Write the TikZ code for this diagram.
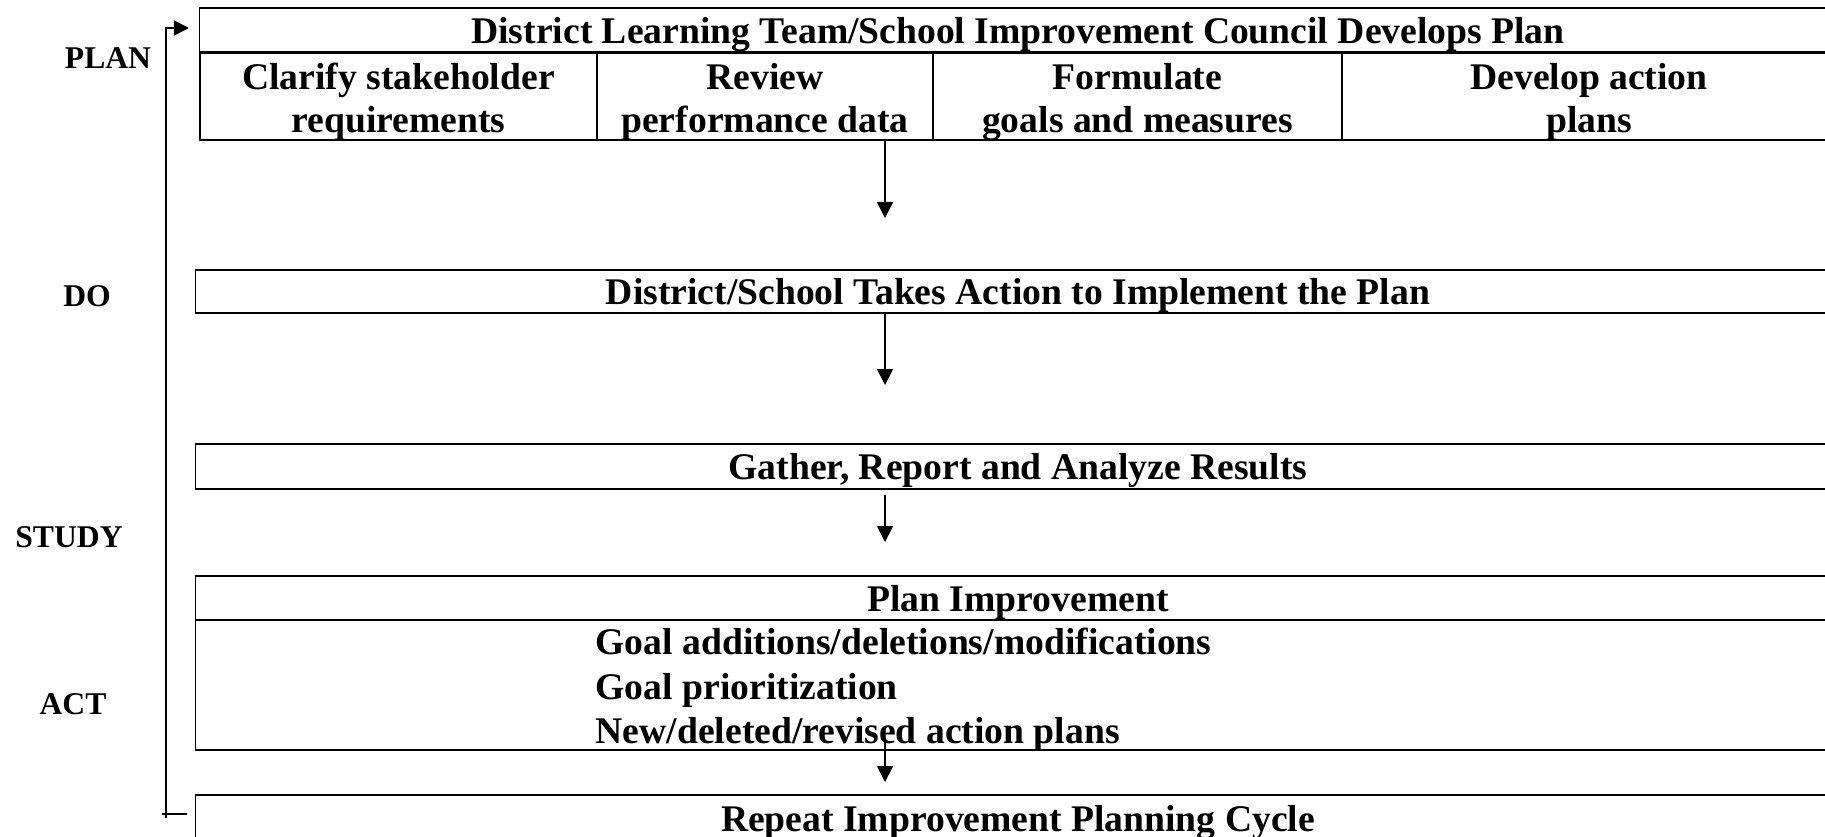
\documentclass[tikz,border=0pt]{standalone}
\usepackage{fontspec}
\setmainfont{Liberation Serif}
\usetikzlibrary{arrows.meta, positioning}
\tikzset{
  cellbox/.style={
    rectangle, draw, line width=0.5pt, inner sep=0pt,
    minimum width=#1, align=center,
    text height=0.98em, text depth=0.22em
  },
  twoline/.style={text height=2.29em},
  flowarrow/.style={-{Triangle[length=0.16cm, width=0.16cm]}, line width=0.5pt},
  looparrow/.style={-{Triangle[length=0.15cm, width=0.15cm]}, line width=0.45pt},
  phase/.style={font=\fontsize{9}{11}\selectfont\bfseries}
}

\begin{document}
\begin{tikzpicture}[
        x=0.01cm, y=-0.01cm,
        every node/.style={font=\fontsize{10.7}{12.3}\selectfont\bfseries}
      ]
      \path[use as bounding box, clip] (0,0) rectangle (1825,836);

      % plan stage
      \node[cellbox=16.36cm, minimum height=0.45cm](plantitle) at (1018,30.5)
           {District Learning Team/School Improvement Council Develops Plan};
      \node[cellbox=3.97cm, twoline, minimum height=0.86cm](clarify) at (398.5,96)
           {Clarify stakeholder\\requirements};
      \node[cellbox=3.36cm, twoline, minimum height=0.86cm](review)  at (765,96)
           {Review\\performance data};
      \node[cellbox=4.09cm, twoline, minimum height=0.86cm](goals)   at (1137.5,96)
           {Formulate\\goals and measures};
      \node[cellbox=4.94cm, twoline, minimum height=0.86cm](actplan) at (1589,96)
           {Develop action\\plans};

      % do, study, act
      \node[cellbox=16.44cm, minimum height=0.43cm](implement) at (1018,291.5)
           {District/School Takes Action to Implement the Plan};
      \node[cellbox=16.44cm, minimum height=0.45cm](gather) at (1018,466.5)
           {Gather, Report and Analyze Results};
      \node[cellbox=16.44cm, minimum height=0.44cm](improve) at (1018,598)
           {Plan Improvement};
      \node[cellbox=16.44cm, minimum height=1.30cm](changes) at (1018,685) {};
      \node[anchor=west, align=left, inner xsep=0pt,
            font=\fontsize{10.7}{12.6}\selectfont\bfseries](changelist) at (595,690)
           {Goal additions/deletions/modifications\\
            Goal prioritization\\
            New/deleted/revised action plans};
      \node[cellbox=16.44cm, minimum height=0.46cm](repeat) at (1018,818)
           {Repeat Improvement Planning Cycle};

      % phase labels
      \node[phase](lplan)  at (108,58)  {PLAN};
      \node[phase](ldo)    at (87,296)  {DO};
      \node[phase](lstudy) at (69,537)  {STUDY};
      \node[phase](lact)   at (73,704)  {ACT};

      % downward arrows
      \coordinate (a1) at (885,218);
      \coordinate (a2) at (885,385);
      \coordinate (a3s) at (885,495);
      \coordinate (a3) at (885,542);
      \coordinate (a4s) at (885,738);
      \coordinate (a4) at (885,782);
      \draw[flowarrow] (a1 |- review.south) -- (a1);
      \draw[flowarrow] (a2 |- implement.south) -- (a2);
      \draw[flowarrow] (a3s) -- (a3);
      \draw[flowarrow] (a4s) -- (a4);

      % feedback loop back to the top
      \coordinate (loopin)  at (187,814);
      \coordinate (loopout) at (189,28);
      \draw[looparrow] (loopin) -- (162,814) (166,818) -- (166,28) -- (loopout);
    \end{tikzpicture}
\end{document}
